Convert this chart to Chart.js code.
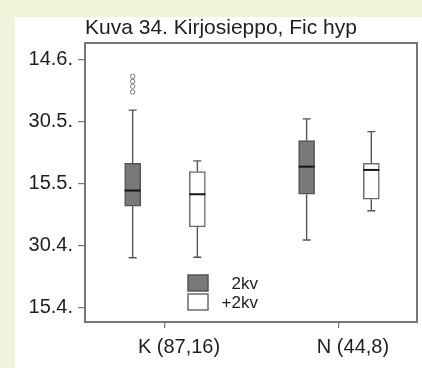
<!DOCTYPE html>
<html>
<head>
<meta charset="utf-8">
<script src="https://cdn.jsdelivr.net/npm/chart.js@4/dist/chart.umd.min.js"></script>
<style>
  html, body { margin: 0; padding: 0; background: #eef4da; }
  #wrap { width: 422px; height: 368px; }
</style>
</head>
<body>
<div id="wrap"><canvas id="c" width="422" height="368"></canvas></div>
<script>
// Laying date of the Pied Flycatcher by area and female age.
// Dates are stored as day numbers counted from 31 March (1 = 1 April).
const titleText = 'Kuva 34. Kirjosieppo, Fic hyp';
const categories = ['K (87,16)', 'N (44,8)'];
const seriesNames = ['2kv', '+2kv'];

const tickDays = [15, 30, 45, 60, 75];
const tickLabels = ['15.4.', '30.4.', '15.5.', '30.5.', '14.6.'];

// 2kv females
const young_lo  = [27.0, 31.3];
const young_q1  = [39.5, 42.4];
const young_med = [43.3, 49.1];
const young_q3  = [49.9, 55.4];
const young_hi  = [62.8, 60.7];
const young_out = [[71.0, 69.8, 68.6, 67.2], []];

// +2kv females
const old_lo  = [27.1, 38.4];
const old_q1  = [34.5, 41.2];
const old_med = [42.4, 48.3];
const old_q3  = [47.9, 49.9];
const old_hi  = [50.5, 57.6];
const old_out = [[], []];

const groupShift = 0.186;   // horizontal shift of each box from its category centre
const boxWidth = 16;

const series = [
  { lo: young_lo, q1: young_q1, med: young_med, q3: young_q3, hi: young_hi, out: young_out,
    fill: '#7b7978', edge: '#555353', shift: -groupShift },
  { lo: old_lo, q1: old_q1, med: old_med, q3: old_q3, hi: old_hi, out: old_out,
    fill: '#ffffff', edge: '#6e6a6a', shift: groupShift }
];

const boxDatasets = series.map((s, k) => ({
  type: 'bar',
  label: seriesNames[k],
  data: categories.map((c, i) => ({ x: i + 1 + s.shift, y: [s.q1[i], s.q3[i]] })),
  backgroundColor: s.fill,
  borderColor: s.edge,
  borderWidth: 1.5,
  borderSkipped: false,
  grouped: false,
  barThickness: boxWidth,
  order: 2
}));

const outlierDatasets = series.map((s, k) => ({
  type: 'scatter',
  label: seriesNames[k] + ' outliers',
  data: categories.flatMap((c, i) => s.out[i].map(v => ({ x: i + 1 + s.shift, y: v }))),
  pointStyle: 'circle',
  pointRadius: 2.2,
  pointBorderWidth: 1,
  pointBorderColor: '#777',
  pointBackgroundColor: '#fff',
  order: 1
}));

const canvasBackdrop = {
  id: 'canvasBackdrop',
  beforeDraw(chart) {
    const ctx = chart.ctx;
    ctx.save();
    ctx.fillStyle = '#eef4da';
    ctx.fillRect(0, 0, chart.width, chart.height);
    ctx.fillStyle = '#ffffff';
    ctx.fillRect(15, 17, chart.width - 15, chart.height - 17);
    ctx.restore();
  }
};

const whiskers = {
  id: 'whiskers',
  beforeDatasetsDraw(chart) {
    const ctx = chart.ctx, y = chart.scales.y;
    ctx.save();
    ctx.strokeStyle = '#555';
    ctx.lineWidth = 1.4;
    series.forEach((s, k) => {
      chart.getDatasetMeta(k).data.forEach((bar, i) => {
        const x = bar.x;
        const pairs = [[s.q3[i], s.hi[i]], [s.q1[i], s.lo[i]]];
        pairs.forEach(([from, to]) => {
          ctx.beginPath();
          ctx.moveTo(x, y.getPixelForValue(from));
          ctx.lineTo(x, y.getPixelForValue(to));
          ctx.moveTo(x - 4, y.getPixelForValue(to));
          ctx.lineTo(x + 4, y.getPixelForValue(to));
          ctx.stroke();
        });
      });
    });
    ctx.restore();
  },
  afterDatasetsDraw(chart) {
    const ctx = chart.ctx, y = chart.scales.y;
    ctx.save();
    ctx.strokeStyle = '#151515';
    ctx.lineWidth = 2;
    series.forEach((s, k) => {
      chart.getDatasetMeta(k).data.forEach((bar, i) => {
        const py = y.getPixelForValue(s.med[i]);
        ctx.beginPath();
        ctx.moveTo(bar.x - boxWidth / 2, py);
        ctx.lineTo(bar.x + boxWidth / 2, py);
        ctx.stroke();
      });
    });
    ctx.restore();
  }
};

const frameAndText = {
  id: 'frameAndText',
  afterDraw(chart) {
    const ctx = chart.ctx, a = chart.chartArea;
    ctx.save();
    // plot frame
    ctx.strokeStyle = '#7a7674';
    ctx.lineWidth = 2;
    ctx.strokeRect(a.left, a.top, a.right - a.left, a.bottom - a.top);
    // title
    ctx.fillStyle = '#1e1e1e';
    ctx.font = '21px "Liberation Sans", Arial, sans-serif';
    ctx.textAlign = 'left';
    ctx.textBaseline = 'alphabetic';
    ctx.fillText(titleText, a.left, 34);
    // legend inside the plot
    const lx = 188, ly = [275, 294], sw = 20, sh = 16;
    ctx.font = '17px "Liberation Sans", Arial, sans-serif';
    ctx.textAlign = 'right';
    ctx.textBaseline = 'middle';
    series.forEach((s, k) => {
      ctx.fillStyle = s.fill;
      ctx.fillRect(lx, ly[k], sw, sh);
      ctx.strokeStyle = s.edge;
      ctx.lineWidth = 1.5;
      ctx.strokeRect(lx, ly[k], sw, sh);
      ctx.fillStyle = '#1e1e1e';
      ctx.fillText(seriesNames[k], 258, ly[k] + sh / 2 + 1);
    });
    ctx.restore();
  }
};

new Chart(document.getElementById('c'), {
  type: 'bar',
  data: { datasets: [...boxDatasets, ...outlierDatasets] },
  options: {
    responsive: false,
    animation: false,
    devicePixelRatio: 1,
    layout: { padding: { top: 43, right: 3, left: 0, bottom: 0 } },
    plugins: {
      legend: { display: false },
      title: { display: false },
      tooltip: { enabled: false }
    },
    scales: {
      x: {
        type: 'linear',
        offset: false,
        min: 0.54,
        max: 2.4486,
        afterFit(scale) { scale.height = 46; },
        afterBuildTicks(scale) { scale.ticks = categories.map((c, i) => ({ value: i + 1 })); },
        border: { display: false },
        grid: { offset: false, drawOnChartArea: false, drawTicks: true, tickLength: 6, color: '#777', lineWidth: 1.2 },
        ticks: {
          callback: (v, i) => categories[i],
          color: '#1e1e1e',
          font: { family: '"Liberation Sans", Arial, sans-serif', size: 20 },
          padding: 7,
          labelOffset: 14,
          maxRotation: 0
        }
      },
      y: {
        min: 11.4,
        max: 79.1,
        afterFit(scale) { scale.width = 85; },
        afterBuildTicks(scale) { scale.ticks = tickDays.map(v => ({ value: v })); },
        border: { display: false },
        grid: { drawOnChartArea: false, drawTicks: true, tickLength: 7, color: '#777', lineWidth: 1.2 },
        ticks: {
          callback: (v, i) => tickLabels[i],
          color: '#1e1e1e',
          font: { family: '"Liberation Sans", Arial, sans-serif', size: 20 },
          padding: 5
        }
      }
    }
  },
  plugins: [canvasBackdrop, whiskers, frameAndText]
});
</script>
</body>
</html>
